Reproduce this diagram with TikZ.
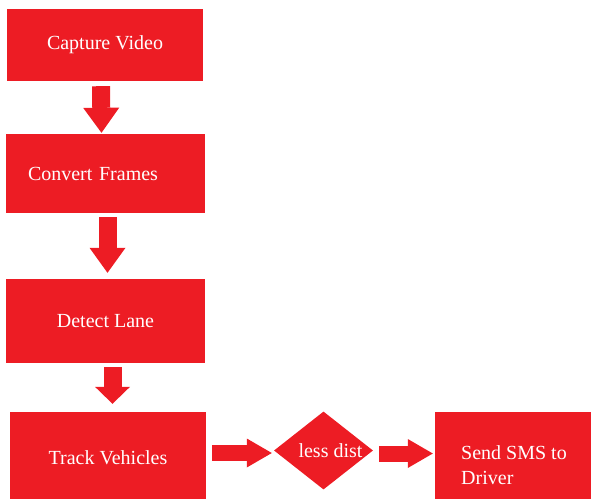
\documentclass[tikz,border=0pt]{standalone}
\usepackage{fontspec}
\setmainfont{Liberation Serif}
\newfontfamily\boxfont{Liberation Serif}
\usetikzlibrary{shapes.geometric, arrows.meta}
\definecolor{boxred}{HTML}{ED1C24}
\tikzstyle{stage} = [rectangle, minimum width=199pt, minimum height=80pt, align=center, fill=boxred, text=white, font=\boxfont\fontsize{20}{25}\selectfont]
\tikzstyle{check} = [diamond, minimum width=99pt, minimum height=77pt, inner sep=0pt, fill=boxred, text=white, font=\boxfont\fontsize{20}{25}\selectfont]
\tikzstyle{arrow} = [draw=boxred, line width=18pt, -{Triangle[width=36pt,length=25pt,line width=0pt]}]
\tikzstyle{sidearrow} = [draw=boxred, line width=16pt, -{Triangle[width=29pt,length=25pt,line width=0pt]}]

\begin{document}
\begin{tikzpicture}[x=1pt, y=-1pt]
	\useasboundingbox (0,0) rectangle (591,498);
	\node (capture) [stage, minimum width=196pt, minimum height=72pt] at (105,45) {Capture Video};
	\node (convert) [stage, minimum height=79pt, align=left, text width=155pt, inner xsep=22pt] at (105.5,173.5) {Convert Frames};
	\node (lane) [stage, minimum height=84pt] at (105.5,321) {Detect Lane};
	\node (track) [stage, minimum width=196pt, minimum height=92pt] at (108,458) {Track Vehicles};
	\node (dist) [check] at (323.5,450.5) {\hspace*{7pt}less dist\hspace*{-7pt}};
	\node (sms) [stage, minimum width=158pt, minimum height=107pt, align=left] at (514,465.5) {Send SMS to\\Driver};
	\draw [arrow, shorten <=5pt, shorten >=1pt] ([xshift=-4pt]capture.south) -- ([xshift=-4pt]convert.north);
	\draw [arrow, shorten <=4pt, shorten >=6pt] ([xshift=2pt]convert.south) -- ([xshift=2pt]lane.north);
	\draw [arrow, -{Triangle[width=35pt,length=17pt,line width=0pt]}, shorten <=4pt, shorten >=8pt] ([xshift=7pt]lane.south) -- ([xshift=4.5pt]track.north);
	\draw [sidearrow, shorten <=6pt, shorten >=2pt] ([yshift=5pt]track.east) -- ([yshift=-2.5pt]dist.west);
	\draw [sidearrow, shorten <=6pt, shorten >=2pt] ([yshift=-3pt]dist.east) -- ([yshift=12pt]sms.west);
\end{tikzpicture}
\end{document}
